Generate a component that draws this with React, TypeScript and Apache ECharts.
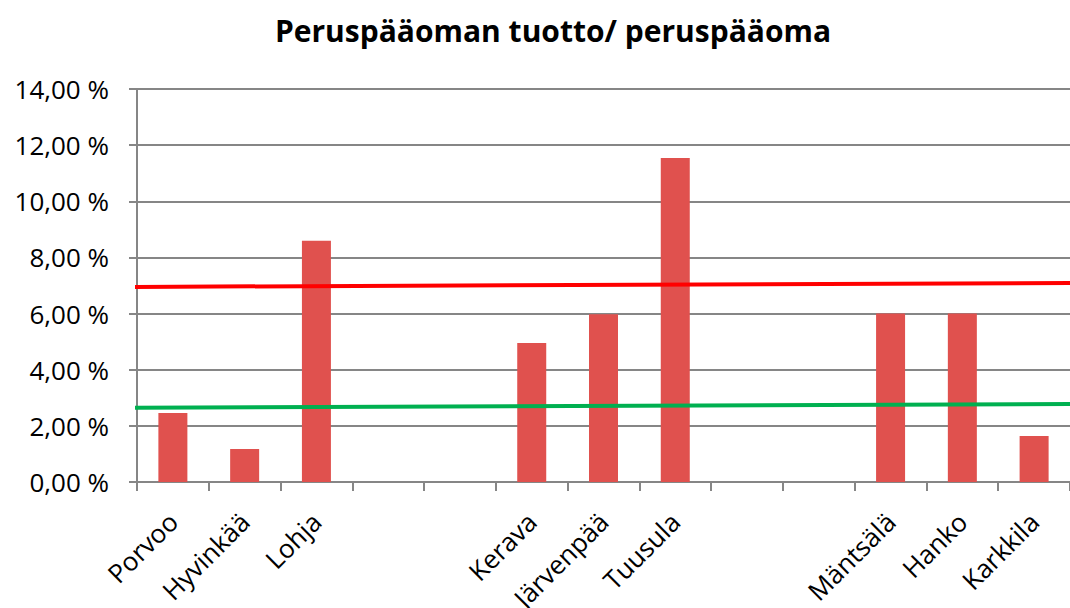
import React, { useEffect, useRef } from "react";
import * as echarts from "echarts";

const categories = ["Porvoo", "Hyvinkää", "Lohja", "", "", "Kerava", "Järvenpää", "Tuusula", "", "", "Mäntsälä", "Hanko", "Karkkila"];
const values: (number | null)[] = [2.46, 1.18, 8.59, null, null, 4.95, 5.98, 11.54, null, null, 6.0, 6.0, 1.64];
const lineX = [-0.11, 13];
const redLine = [6.95, 7.09];
const greenLine = [2.64, 2.78];

export default function App() {
  const ref = useRef<HTMLDivElement>(null);
  useEffect(() => {
    const chart = echarts.init(ref.current!, null, { renderer: "svg" });
    const font = "'Open Sans', 'Noto Sans', sans-serif";
    chart.setOption({
      animation: false,
      backgroundColor: "#ffffff",
      textStyle: { fontFamily: font },
      title: {
        text: "Peruspääoman tuotto/ peruspääoma",
        left: 548,
        textAlign: "center",
        top: 10,
        textStyle: { fontFamily: font, fontWeight: "bold", fontSize: 30, color: "#000" },
      },
      grid: { left: 137, right: 0, top: 89, bottom: 126, containLabel: false, outerBoundsMode: "none" },
      xAxis: [
        {
          type: "category",
          data: categories,
          axisLine: { lineStyle: { color: "#868686", width: 2 } },
          axisTick: { show: true, length: 9, alignWithLabel: false, lineStyle: { color: "#868686", width: 2 } },
          axisLabel: { rotate: 45, fontSize: 26, color: "#000", fontFamily: font, interval: 0, margin: 35 },
        },
        { type: "value", min: 0, max: 13, show: false },
      ],
      yAxis: {
        type: "value",
        min: 0,
        max: 14,
        interval: 2,
        axisLine: { show: true, lineStyle: { color: "#868686", width: 2 } },
        axisTick: { show: true, length: 8, lineStyle: { color: "#868686", width: 2 } },
        splitLine: { lineStyle: { color: "#868686", width: 2 } },
        axisLabel: {
          fontSize: 26,
          color: "#000",
          fontFamily: font,
          margin: 28,
          formatter: (v: number) => v.toFixed(2).replace(".", ",") + " %",
        },
      },
      series: [
        {
          type: "bar",
          data: values,
          barWidth: 29,
          itemStyle: { color: "#e0514e" },
        },
        {
          type: "line",
          xAxisIndex: 1,
          data: lineX.map((x, i) => [x, redLine[i]]),
          symbol: "none",
          clip: false,
          lineStyle: { color: "#ff0000", width: 4 },
        },
        {
          type: "line",
          xAxisIndex: 1,
          data: lineX.map((x, i) => [x, greenLine[i]]),
          symbol: "none",
          clip: false,
          lineStyle: { color: "#00b050", width: 4 },
        },
      ],
    });
    return () => chart.dispose();
  }, []);
  return <div ref={ref} style={{ position: "fixed", left: 0, top: 0, width: 1070, height: 608 }} />;
}
